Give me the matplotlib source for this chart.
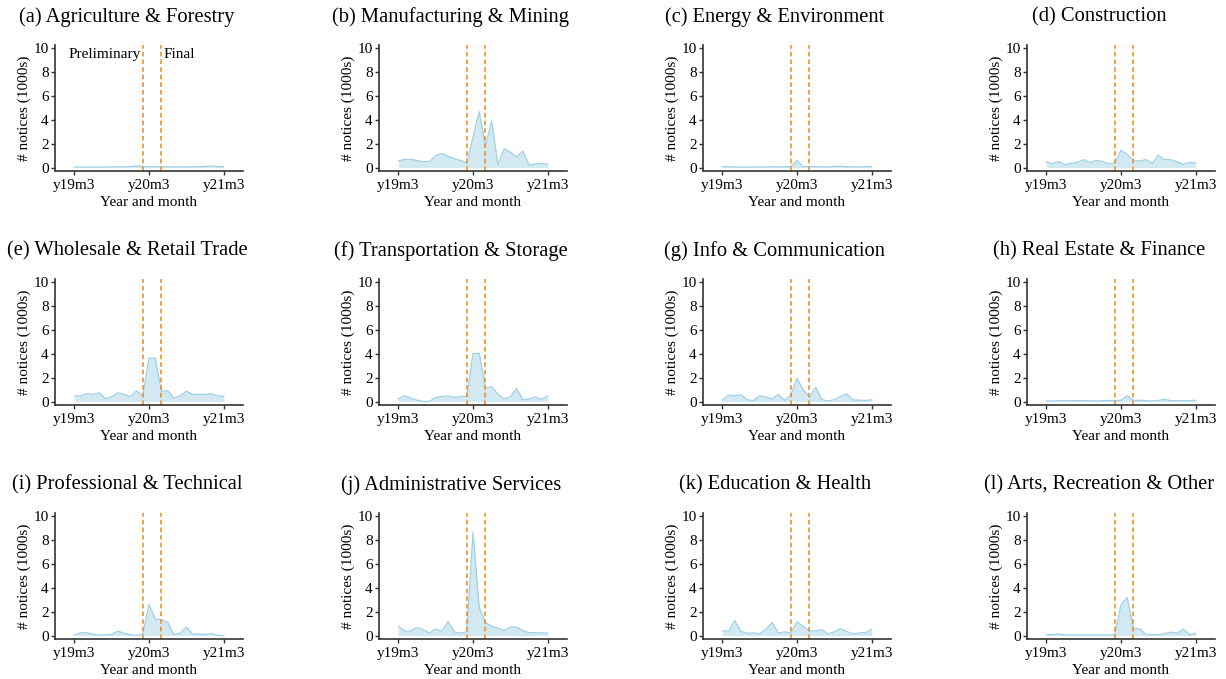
import numpy as np
import matplotlib
matplotlib.use("Agg")
import matplotlib.pyplot as plt

plt.rcParams["font.family"] = ["Liberation Serif", "DejaVu Serif"]

# monthly notices (1000s), y19m3 .. y21m3
months = np.arange(25)
tick_pos = [0, 12, 24]
tick_labels = ["y19m3", "y20m3", "y21m3"]
event_lines = [11, 14]

titles = [
    "(a) Agriculture & Forestry", "(b) Manufacturing & Mining",
    "(c) Energy & Environment", "(d) Construction",
    "(e) Wholesale & Retail Trade", "(f) Transportation & Storage",
    "(g) Info & Communication", "(h) Real Estate & Finance",
    "(i) Professional & Technical", "(j) Administrative Services",
    "(k) Education & Health", "(l) Arts, Recreation & Other",
]

agri = [0.05, 0.05, 0.05, 0.05, 0.05, 0.05, 0.06, 0.07, 0.08, 0.08, 0.15, 0.1, 0.08,
        0.08, 0.07, 0.06, 0.06, 0.06, 0.07, 0.07, 0.08, 0.1, 0.15, 0.1, 0.08]
manuf = [0.56, 0.7, 0.7, 0.6, 0.5, 0.5, 1.0, 1.2, 0.95, 0.75, 0.6, 0.42, 2.55,
         4.7, 1.85, 3.9, 0.25, 1.6, 1.3, 0.9, 1.4, 0.2, 0.33, 0.33, 0.3]
energy = [0.08, 0.08, 0.05, 0.05, 0.05, 0.05, 0.06, 0.05, 0.08, 0.06, 0.08, 0.1, 0.6,
          0.08, 0.1, 0.08, 0.07, 0.05, 0.1, 0.12, 0.08, 0.07, 0.05, 0.08, 0.08]
constr = [0.48, 0.34, 0.5, 0.25, 0.37, 0.45, 0.68, 0.42, 0.62, 0.53, 0.34, 0.4, 1.45,
          1.1, 0.62, 0.56, 0.68, 0.34, 1.05, 0.68, 0.68, 0.48, 0.28, 0.45, 0.4]
retail = [0.48, 0.48, 0.67, 0.6, 0.75, 0.25, 0.4, 0.75, 0.6, 0.42, 0.92, 0.48, 3.65,
          3.65, 0.87, 0.92, 0.3, 0.5, 0.87, 0.6, 0.62, 0.6, 0.67, 0.48, 0.45]
transport = [0.23, 0.5, 0.3, 0.12, 0.02, 0.02, 0.35, 0.43, 0.48, 0.35, 0.43, 0.45, 4.05,
             4.05, 1.15, 1.25, 0.63, 0.23, 0.4, 1.1, 0.15, 0.23, 0.4, 0.2, 0.48]
info = [0.1, 0.55, 0.5, 0.58, 0.15, 0.1, 0.5, 0.4, 0.22, 0.6, 0.1, 0.55, 1.95,
        1.0, 0.4, 1.2, 0.17, 0.05, 0.17, 0.45, 0.65, 0.15, 0.12, 0.1, 0.15]
realestate = [0.05, 0.05, 0.08, 0.08, 0.08, 0.1, 0.08, 0.08, 0.05, 0.08, 0.1, 0.08, 0.12,
              0.5, 0.1, 0.12, 0.08, 0.05, 0.1, 0.2, 0.08, 0.08, 0.08, 0.08, 0.12]
prof = [0.05, 0.23, 0.26, 0.12, 0.06, 0.06, 0.12, 0.38, 0.2, 0.09, 0.03, 0.12, 2.6,
        1.4, 1.33, 1.13, 0.09, 0.2, 0.7, 0.15, 0.15, 0.09, 0.17, 0.03, 0.0]
admin = [0.78, 0.39, 0.39, 0.7, 0.5, 0.22, 0.56, 0.36, 1.18, 0.31, 0.2, 0.34, 8.65,
         2.35, 1.12, 0.78, 0.64, 0.42, 0.73, 0.73, 0.42, 0.25, 0.25, 0.22, 0.22]
edu = [0.4, 0.38, 1.25, 0.35, 0.2, 0.23, 0.17, 0.52, 1.1, 0.23, 0.32, 0.23, 1.16,
       0.78, 0.4, 0.4, 0.5, 0.15, 0.32, 0.58, 0.35, 0.15, 0.23, 0.26, 0.52]
arts = [0.08, 0.1, 0.14, 0.06, 0.06, 0.06, 0.06, 0.06, 0.06, 0.06, 0.06, 0.08, 2.6,
        3.2, 0.62, 0.56, 0.1, 0.08, 0.1, 0.17, 0.3, 0.2, 0.56, 0.08, 0.2]

series = [agri, manuf, energy, constr, retail, transport,
          info, realestate, prof, admin, edu, arts]

W, H = 1226, 679
fig = plt.figure(figsize=(W / 100, H / 100), dpi=100)

fill_col = "#d3e9f2"
line_col = "#9fd0e5"
dash_col = "#ea8a1a"
axis_col = "#333333"

for i, (title, vals) in enumerate(zip(titles, series)):
    row, col = divmod(i, 4)
    left = 55 + 324 * col
    top = 45 + 234 * row
    ax = fig.add_axes([left / W, 1 - (top + 126) / H, 188 / W, 126 / H])

    ax.fill_between(months, 0, vals, color=fill_col, lw=0)
    ax.plot(months, vals, color=line_col, lw=0.9)
    for xv in event_lines:
        ax.axvline(xv, color=dash_col, lw=1.1, ls=(0, (3, 2)))

    ax.set_xlim(-3.1, 27.1)
    ax.set_ylim(-0.28, 10.28)
    ax.set_xticks(tick_pos)
    ax.set_xticklabels(tick_labels)
    ax.set_yticks([0, 2, 4, 6, 8, 10])
    ax.tick_params(labelsize=11, length=3, width=1, color=axis_col,
                   labelcolor="black", pad=1.5)
    ax.tick_params(axis="x", pad=2.5)
    for s in ["top", "right"]:
        ax.spines[s].set_visible(False)
    for s in ["left", "bottom"]:
        ax.spines[s].set_color(axis_col)
        ax.spines[s].set_linewidth(1.2)

    ax.set_xlabel("Year and month", fontsize=11, labelpad=3)
    ax.set_ylabel("# notices (1000s)", fontsize=11, labelpad=2)
    fig.text((left + 72) / W, 1 - (top - 28) / H, title,
             ha="center", va="center", fontsize=14.8)

    if i == 0:
        ax.text(event_lines[0] - 0.3, 9.45, "Preliminary", ha="right",
                va="center", fontsize=11)
        ax.text(event_lines[1] + 0.3, 9.45, "Final", ha="left",
                va="center", fontsize=11)

fig.savefig("out.png", dpi=100, facecolor="white")
